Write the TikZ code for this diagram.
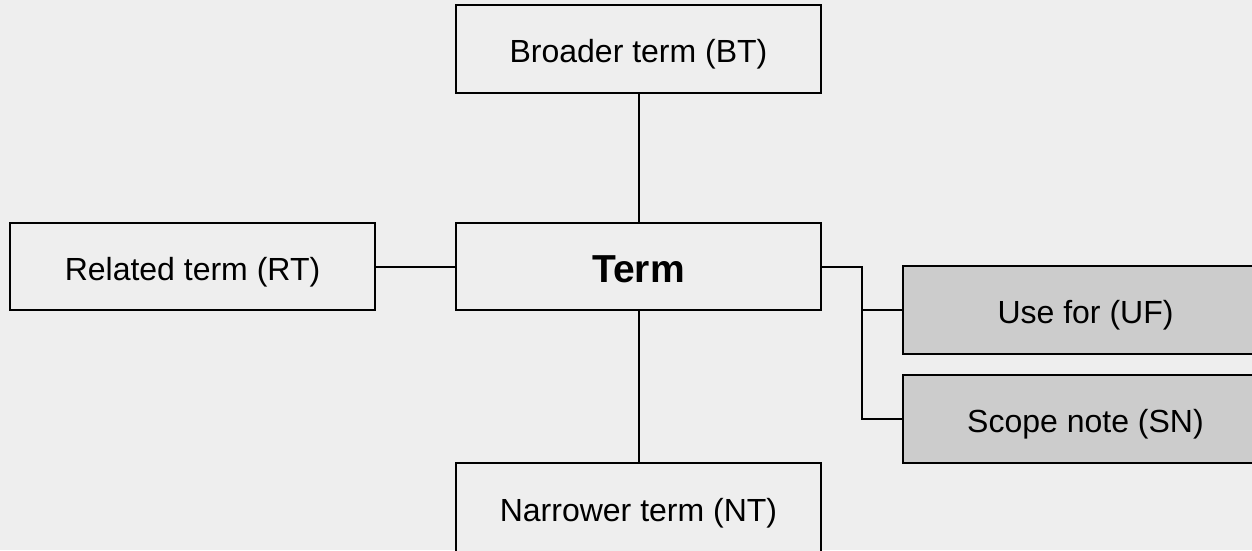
\documentclass[tikz,border=0pt]{standalone}
\usepackage{fontspec}
\setmainfont{Liberation Sans}
\definecolor{bg}{HTML}{EEEEEE}
\definecolor{note}{HTML}{CCCCCC}
\begin{document}
\begin{tikzpicture}[x=1pt,y=-1pt,
  box/.style={draw=black,line width=2pt,fill=bg,minimum width=365pt,minimum height=88pt,inner sep=0pt,
    text height=27.6pt,text depth=0pt,font=\fontsize{32}{38}\selectfont},
  termbox/.style={box,minimum height=87pt,text height=32.6pt,text depth=0pt,font=\fontsize{39}{46}\bfseries},
  notebox/.style={box,fill=note},
  link/.style={draw=black,line width=2pt}]
\fill[bg] (0,0) rectangle (1252,550);
\useasboundingbox (0,0) rectangle (1252,550);
\clip (0,0) rectangle (1252,550);
\node[box] (bt) at (638.5,49) {Broader term (BT)};
\node[termbox] (term) at (638.5,266.5) {Term};
\node[box,minimum height=87pt] (rt) at (192.5,266.5) {Related term (RT)};
\node[box,minimum height=90pt] (nt) at (638.5,508) {Narrower term (NT)};
\node[notebox,anchor=west] (uf) at (902,310) {Use for (UF)};
\node[notebox,anchor=west] (sn) at (902,419) {Scope note (SN)};
\coordinate (j) at (862,419);
\draw[link] (bt) -- (term);
\draw[link] (term) -- (nt);
\draw[link] (rt) -- (term);
\draw[link] (term.east) -| (j) -- (sn.west);
\draw[link] (j |- uf.west) -- (uf.west);
\end{tikzpicture}
\end{document}
